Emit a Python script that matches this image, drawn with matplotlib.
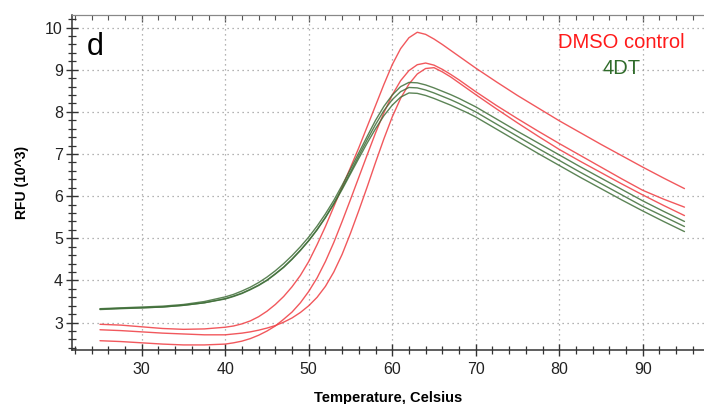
import matplotlib
matplotlib.use("Agg")
import matplotlib.pyplot as plt
from matplotlib.ticker import MultipleLocator

# ---- data ----
temps = [25, 27.5, 30, 32.5, 35, 37.5, 40, 41, 42, 43, 44, 45, 46, 47, 48, 49, 50,
         51, 52, 53, 54, 55, 56, 57, 58, 59, 60, 61, 62, 63, 64, 65, 66, 67, 68, 69,
         70, 72.5, 75, 77.5, 80, 82.5, 85, 87.5, 90, 92.5, 95]

dmso_a = [2.96, 2.94, 2.90, 2.86, 2.84, 2.85, 2.89, 2.92, 2.97, 3.04, 3.14, 3.27,
          3.43, 3.62, 3.85, 4.12, 4.45, 4.85, 5.28, 5.75, 6.22, 6.68, 7.15, 7.65,
          8.15, 8.65, 9.12, 9.50, 9.76, 9.89, 9.84, 9.73, 9.60, 9.46, 9.32, 9.18,
          9.04, 8.71, 8.39, 8.09, 7.79, 7.51, 7.23, 6.96, 6.69, 6.43, 6.18]
dmso_b = [2.57, 2.55, 2.52, 2.49, 2.47, 2.47, 2.49, 2.52, 2.56, 2.62, 2.70, 2.80,
          2.92, 3.08, 3.25, 3.47, 3.74, 4.06, 4.45, 4.90, 5.40, 5.92, 6.45, 6.98,
          7.50, 7.98, 8.40, 8.74, 8.98, 9.12, 9.16, 9.11, 9.01, 8.89, 8.76, 8.62,
          8.48, 8.15, 7.84, 7.54, 7.25, 6.97, 6.69, 6.41, 6.14, 5.93, 5.74]
dmso_c = [2.83, 2.81, 2.78, 2.75, 2.73, 2.71, 2.71, 2.73, 2.75, 2.78, 2.82, 2.87,
          2.93, 3.01, 3.11, 3.24, 3.40, 3.60, 3.86, 4.20, 4.62, 5.12, 5.66, 6.22,
          6.80, 7.36, 7.88, 8.32, 8.66, 8.90, 9.03, 9.05, 8.95, 8.83, 8.69, 8.55,
          8.41, 8.07, 7.74, 7.42, 7.11, 6.83, 6.56, 6.29, 6.03, 5.78, 5.54]

dt_a = [3.33, 3.35, 3.37, 3.39, 3.43, 3.50, 3.61, 3.67, 3.75, 3.84, 3.95, 4.08,
        4.23, 4.40, 4.59, 4.80, 5.03, 5.29, 5.58, 5.90, 6.26, 6.64, 7.03, 7.42,
        7.80, 8.13, 8.40, 8.60, 8.70, 8.69, 8.64, 8.57, 8.49, 8.41, 8.32, 8.22,
        8.12, 7.83, 7.54, 7.26, 6.98, 6.70, 6.43, 6.16, 5.89, 5.64, 5.40]
dt_b = [3.31, 3.33, 3.35, 3.37, 3.41, 3.47, 3.57, 3.63, 3.70, 3.79, 3.89, 4.01,
        4.16, 4.32, 4.51, 4.72, 4.95, 5.21, 5.50, 5.83, 6.19, 6.57, 6.96, 7.34,
        7.70, 8.03, 8.29, 8.48, 8.58, 8.57, 8.52, 8.45, 8.37, 8.29, 8.20, 8.10,
        8.00, 7.71, 7.42, 7.13, 6.85, 6.57, 6.30, 6.03, 5.76, 5.52, 5.28]
dt_c = [3.32, 3.34, 3.35, 3.37, 3.41, 3.47, 3.56, 3.62, 3.69, 3.78, 3.88, 4.00,
        4.15, 4.31, 4.50, 4.71, 4.94, 5.20, 5.49, 5.81, 6.16, 6.53, 6.90, 7.26,
        7.60, 7.91, 8.16, 8.35, 8.45, 8.44, 8.39, 8.32, 8.24, 8.16, 8.07, 7.98,
        7.88, 7.59, 7.30, 7.01, 6.73, 6.45, 6.18, 5.91, 5.65, 5.40, 5.16]

dmso_series = [dmso_a, dmso_b, dmso_c]
dt_series = [dt_a, dt_b, dt_c]

x_ticks = [30, 40, 50, 60, 70, 80, 90]
y_ticks = [3, 4, 5, 6, 7, 8, 9, 10]

panel_label = "d"
legend_dmso = "DMSO control"
legend_dt = "4DT"
x_label = "Temperature, Celsius"
y_label = "RFU (10^3)"

RED = "#f0464b"
GREEN = "#3f6e38"

plt.rcParams['font.family'] = ['Liberation Sans', 'DejaVu Sans']

fig = plt.figure(figsize=(7.04, 4.04), dpi=100)
ax = fig.add_axes([0.1023, 0.1337, 0.8977, 0.8292])

for s in dmso_series:
    ax.plot(temps, s, color=RED, lw=1.0, alpha=0.9, solid_capstyle='round')
for s in dt_series:
    ax.plot(temps, s, color=GREEN, lw=1.0, alpha=0.85, solid_capstyle='round')

ax.set_xlim(21.65, 97.34)
ax.set_ylim(2.35, 10.30)

ax.set_xticks(x_ticks)
ax.set_yticks(y_ticks)
ax.xaxis.set_minor_locator(MultipleLocator(2))
ax.yaxis.set_minor_locator(MultipleLocator(0.2))

ax.grid(True, which='major', color='#9a9a9a', linestyle=(0, (1, 3)), lw=0.9)

ax.tick_params(axis='both', which='major', direction='inout', length=9,
               width=1.0, color='#333333', labelsize=11.5, labelcolor='#222222')
ax.tick_params(axis='both', which='minor', direction='inout', length=6,
               width=0.9, color='#333333')
ax.tick_params(axis='x', which='both', top=False, pad=4)
ax.tick_params(axis='y', pad=2)

# top axis: small inward ticks only
sec = ax.secondary_xaxis('top')
sec.set_xticks(x_ticks)
sec.xaxis.set_minor_locator(MultipleLocator(2))
sec.tick_params(axis='x', which='major', direction='in', length=5, width=0.9,
                color='#555555', labeltop=False)
sec.tick_params(axis='x', which='minor', direction='in', length=3.5, width=0.8,
                color='#555555')
sec.spines['top'].set_color('#888888')

for sp in ['left', 'bottom']:
    ax.spines[sp].set_color('#333333')
    ax.spines[sp].set_linewidth(1.1)
ax.spines['top'].set_color('#888888')
ax.spines['right'].set_visible(False)

ax.set_xlabel(x_label, fontsize=10.5, fontweight='bold', labelpad=10)
ax.set_ylabel(y_label, fontsize=10, fontweight='bold', labelpad=12)

ax.text(0.024, 0.880, panel_label, transform=ax.transAxes, fontsize=22,
        va='baseline', ha='left', color='black')
ax.text(0.869, 0.9015, legend_dmso, transform=ax.transAxes, fontsize=14.5,
        va='baseline', ha='center', color='#ff1a1a')
ax.text(0.869, 0.824, legend_dt, transform=ax.transAxes, fontsize=14.5,
        va='baseline', ha='center', color='#2f6b2a')

fig.savefig("out.png", dpi=100)
